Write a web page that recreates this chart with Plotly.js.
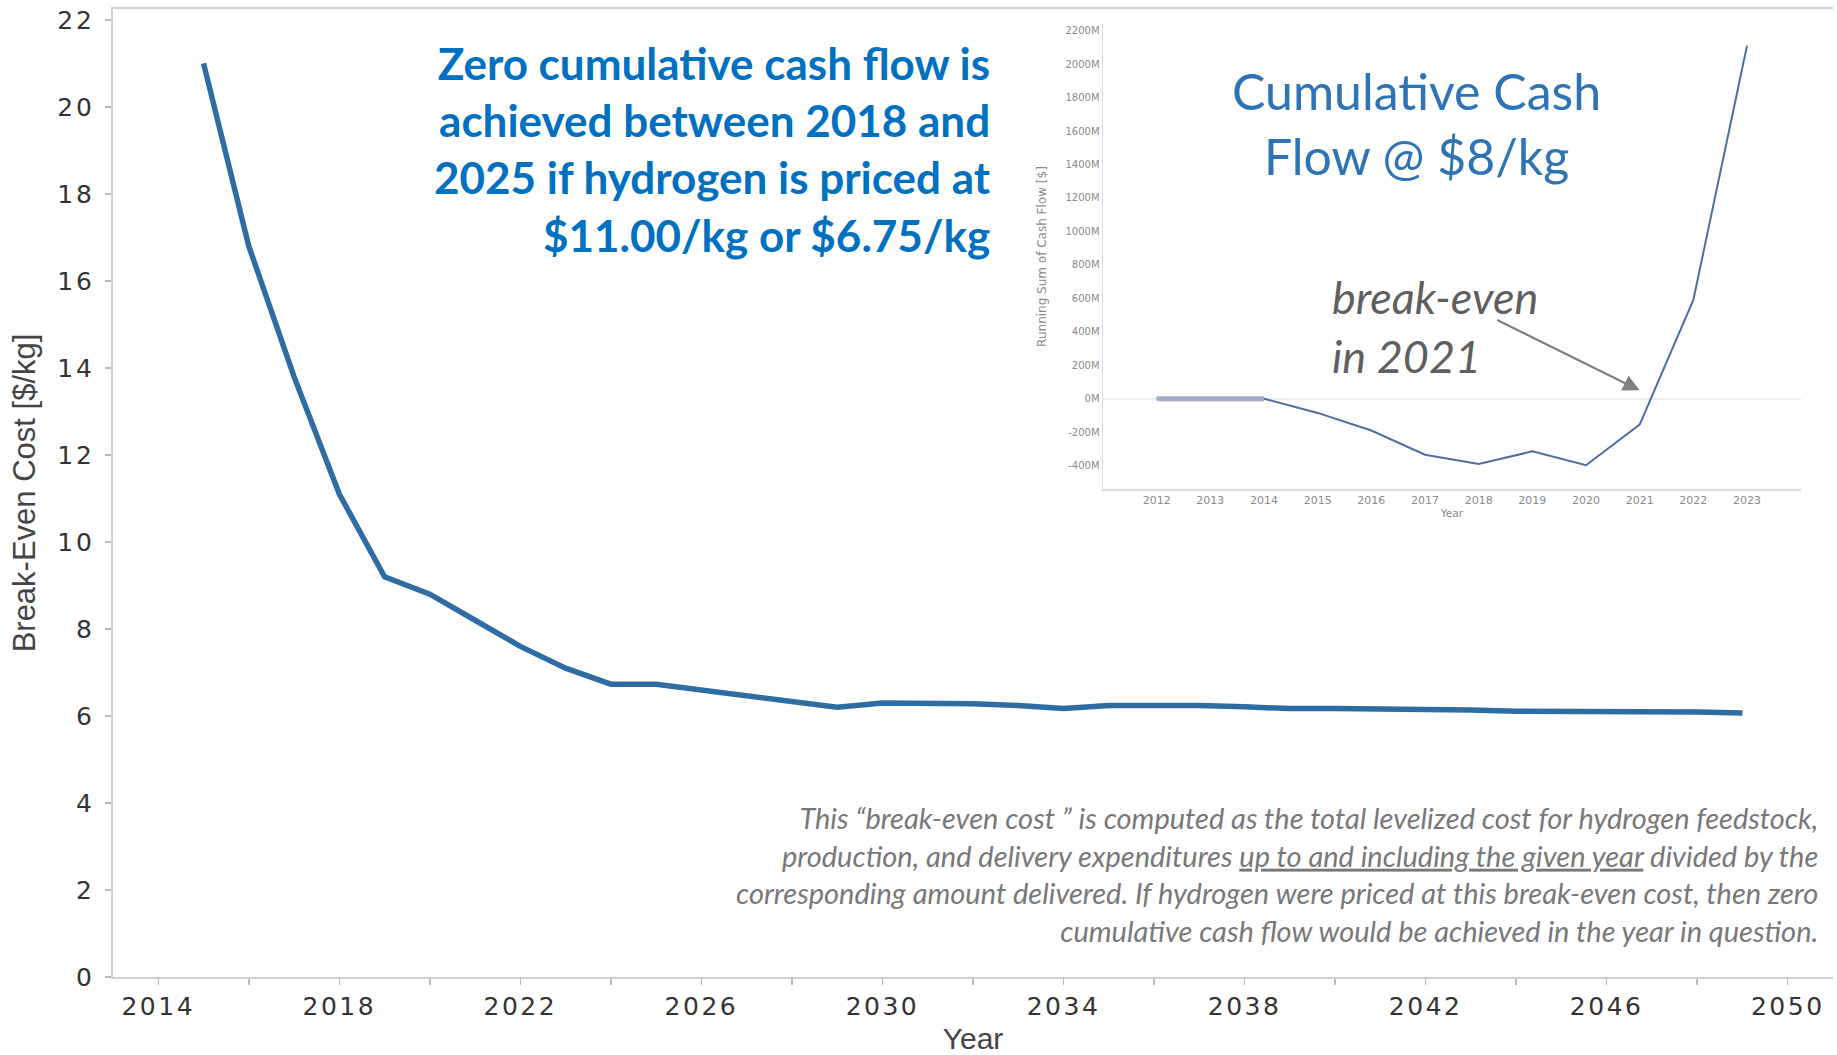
<!DOCTYPE html>
<html>
<head>
<meta charset="utf-8">
<script src="https://cdn.plot.ly/plotly-3.0.1.min.js"></script>
<style>
  html, body { margin:0; padding:0; background:#fff; }
  #chart { width:1837px; height:1055px; }
  .xtick text { letter-spacing: 2.5px; }
  .ytick text { letter-spacing: 3px; }
</style>
</head>
<body>
<div id="chart"></div>
<script>
// ---- Main chart data: break-even cost [$/kg] by year ----
const years = [2015,2016,2017,2018,2019,2020,2021,2022,2023,2024,2025,2026,2027,2028,2029,2030,2031,2032,2033,2034,2035,2036,2037,2038,2039,2040,2041,2042,2043,2044,2045,2046,2047,2048,2049];
const breakEvenCost = [21.0,16.8,13.8,11.1,9.2,8.8,8.2,7.6,7.1,6.73,6.73,6.6,6.47,6.34,6.2,6.3,6.3,6.28,6.24,6.17,6.24,6.25,6.24,6.21,6.17,6.17,6.17,6.14,6.14,6.11,6.11,6.11,6.11,6.09,6.07];
const mainYTicks = [0,2,4,6,8,10,12,14,16,18,20,22];
const mainXTicks = [2014,2018,2022,2026,2030,2034,2038,2042,2046,2050];

// ---- Inset chart data: cumulative cash flow at $8/kg [$M] ----
const insetYears = [2012,2013,2014,2015,2016,2017,2018,2019,2020,2021,2022,2023];
const cumulativeCashM = [0,0,0,-85,-190,-335,-390,-315,-398,-155,590,2110];
const insetFlatYears = [2012,2013,2014];
const insetFlatVals = [0,0,0];
const insetYTicks = [-400,-200,0,200,400,600,800,1000,1200,1400,1600,1800,2000,2200];
const insetYTickText = ['-400M','-200M','0M','200M','400M','600M','800M','1000M','1200M','1400M','1600M','1800M','2000M','2200M'];

const traces = [
  { x: years, y: breakEvenCost, type:'scatter', mode:'lines',
    line:{color:'#2f6ca3', width:5.5}, xaxis:'x', yaxis:'y', hoverinfo:'x+y' },
  { x: insetYears, y: cumulativeCashM, type:'scatter', mode:'lines',
    line:{color:'#4d6f9f', width:2}, xaxis:'x2', yaxis:'y2' },
  { x: insetFlatYears, y: insetFlatVals, type:'scatter', mode:'lines',
    line:{color:'#a4aac6', width:5}, xaxis:'x2', yaxis:'y2' }
];

const layout = {
  width:1837, height:1055,
  margin:{l:113, r:4, t:9, b:78},
  paper_bgcolor:'#ffffff', plot_bgcolor:'#ffffff',
  showlegend:false,
  xaxis:{
    range:[2013,2051], tickmode:'array', tickvals:mainXTicks,
    ticks:'outside', ticklen:6, tickwidth:1.5, tickcolor:'#bbbbbb',
    showline:true, linecolor:'#d0d0d0', linewidth:2, mirror:true,
    showgrid:false, zeroline:false,
    minor:{tick0:2014, dtick:2, ticks:'outside', ticklen:6, tickwidth:1.5, tickcolor:'#bbbbbb', showgrid:false},
    tickfont:{family:'DejaVu Sans, sans-serif', size:25, color:'#333333'},
    title:{text:'Year', standoff:10, font:{family:'Liberation Sans, Arial, sans-serif', size:30, color:'#444444'}}
  },
  yaxis:{
    range:[0,22.25], tickmode:'array', tickvals:mainYTicks, ticklabeloverflow:'allow',
    ticks:'outside', ticklen:6, tickwidth:1.5, tickcolor:'#bbbbbb',
    showline:true, linecolor:'#d0d0d0', linewidth:2,
    showgrid:false, zeroline:false, ticklabelstandoff:5,
    tickfont:{family:'DejaVu Sans, sans-serif', size:25, color:'#333333'},
    title:{text:'Break-Even Cost [$/kg]', standoff:12, font:{family:'Liberation Sans, Arial, sans-serif', size:31, color:'#444444'}}
  },
  xaxis2:{
    domain:[0.5756,0.9812], anchor:'y2',
    range:[2011,2024], tickmode:'array', tickvals:insetYears,
    ticks:'', showline:true, linecolor:'#dddddd', linewidth:1.5,
    showgrid:false, zeroline:false,
    tickfont:{family:'DejaVu Sans, sans-serif', size:11, color:'#8a8a8a'},
    title:{text:'Year', standoff:4, font:{family:'DejaVu Sans, sans-serif', size:10.5, color:'#8a8a8a'}}
  },
  yaxis2:{
    domain:[0.5041,0.9845], anchor:'x2',
    range:[-540,2240], tickmode:'array', tickvals:insetYTicks, ticktext:insetYTickText,
    ticks:'', showline:true, linecolor:'#dddddd', linewidth:1.5,
    showgrid:false, zeroline:true, zerolinecolor:'#eeeeee', zerolinewidth:2,
    tickfont:{family:'DejaVu Sans, sans-serif', size:10, color:'#8a8a8a'},
    title:{text:'Running Sum of Cash Flow [$]', standoff:16, font:{family:'DejaVu Sans, sans-serif', size:12, color:'#8a8a8a'}}
  },
  annotations:[
    { xref:'paper', yref:'paper', x:0.5115, y:0.8549, xanchor:'right', yanchor:'middle', align:'right', showarrow:false,
      text:'Zero cumulative cash flow is<br>achieved between 2018 and<br>2025 if hydrogen is priced at<br>$11.00/kg or $6.75/kg',
      font:{family:'Lato, sans-serif', size:44, color:'#0070c0', weight:700} },
    { xref:'paper', yref:'paper', x:0.7576, y:0.8817, xanchor:'center', yanchor:'middle', align:'center', showarrow:false,
      text:'Cumulative Cash<br>Flow @ $8/kg',
      font:{family:'Lato, sans-serif', size:50, color:'#2e74b5'} },
    { xref:'paper', yref:'paper', x:0.7076, y:0.6715, xanchor:'left', yanchor:'middle', align:'left', showarrow:false,
      text:'<i>break-even<br>in 2021</i>',
      font:{family:'Lato, sans-serif', size:45, color:'#5f5f5f'} },
    { xref:'x2', yref:'y2', x:2021, y:50, text:'', showarrow:true, arrowhead:2, arrowsize:1.5, arrowwidth:2.2,
      arrowcolor:'#808080', axref:'pixel', ayref:'pixel', ax:-144, ay:-71, standoff:0 },
    { xref:'paper', yref:'paper', x:0.9924, y:0.1065, xanchor:'right', yanchor:'middle', align:'right', showarrow:false,
      text:'<i>This “break-even cost ” is computed as the total levelized cost for hydrogen feedstock,<br>production, and delivery expenditures <u>up to and including the given year</u> divided by the<br>corresponding amount delivered. If hydrogen were priced at this break-even cost, then zero<br>cumulative cash flow would be achieved in the year in question.</i>',
      font:{family:'Lato, sans-serif', size:29, color:'#787878'} }
  ]
};

Plotly.newPlot('chart', traces, layout, {displayModeBar:false, staticPlot:true});
</script>
</body>
</html>
